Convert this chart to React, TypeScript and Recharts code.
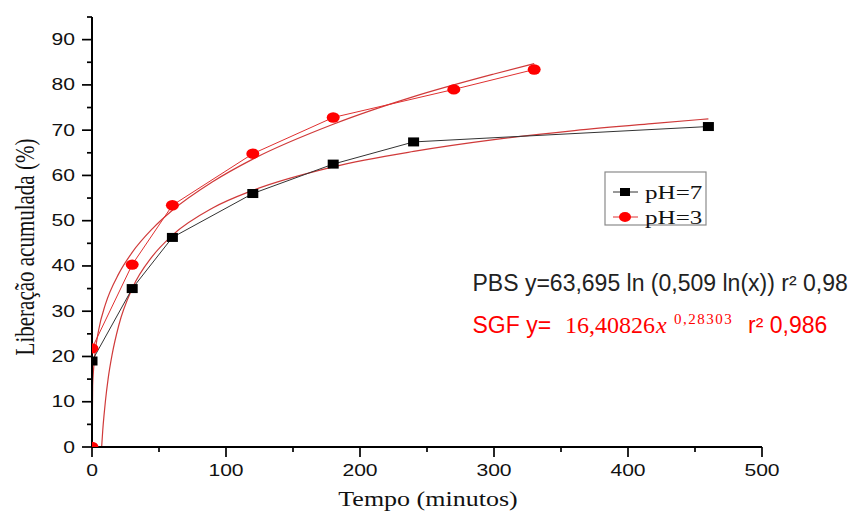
import React from 'react';
import { ComposedChart, Line, XAxis, YAxis } from 'recharts';

// Dados experimentais (tempo em minutos, liberação em %)
const timePH7 = [0, 30, 60, 120, 180, 240, 460];
const valuesPH7 = [19, 35, 46.3, 56, 62.5, 67.4, 70.8];

const timePH3 = [0, 0, 30, 60, 120, 180, 270, 330];
const valuesPH3 = [0, 21.8, 40.3, 53.4, 64.8, 72.8, 79, 83.4];

// Curvas de ajuste
const timeFitPBS = [7.2, 8, 9, 10, 12, 15, 20, 30, 45, 60, 90, 120, 180, 240, 300, 360, 420, 460];
const valuesFitPBS = [0, 3.6, 7.1, 10.1, 15, 20.4, 26.9, 35, 42.1, 46.8, 52.8, 56.7, 61.9, 65.3, 67.9, 69.9, 71.5, 72.5];

const timeFitSGF = [0, 0.5, 1, 2, 5, 10, 20, 30, 45, 60, 90, 120, 180, 240, 300, 330];
const valuesFitSGF = [0, 13.5, 16.4, 20, 25.9, 31.5, 38.3, 43, 48.2, 52.3, 58.6, 63.6, 71.3, 77.4, 82.4, 84.7];

const yTicks = [0, 5, 10, 15, 20, 25, 30, 35, 40, 45, 50, 55, 60, 65, 70, 75, 80, 85, 90, 95];
const xTicks = [0, 50, 100, 150, 200, 250, 300, 350, 400, 450, 500];

const toRows = (xs: number[], ys: number[]) => xs.map((t, i) => ({ t, v: ys[i] }));

const dataPH7 = toRows(timePH7, valuesPH7);
const dataPH3 = toRows(timePH3, valuesPH3);
const dataFitPBS = toRows(timeFitPBS, valuesFitPBS);
const dataFitSGF = toRows(timeFitSGF, valuesFitSGF);

const SANS = '"Liberation Sans", Arial, sans-serif';
const SERIF = '"Liberation Serif", "Times New Roman", serif';
const STRETCH = 1.32;

const YTick = (props: any) => {
  const { x, y, payload } = props;
  const major = payload.value % 10 === 0;
  return (
    <g>
      <line x1={x} x2={x - (major ? 10 : 5)} y1={y} y2={y} stroke="#000" strokeWidth={1.7} />
      {major && (
        <text
          transform={`translate(${x - 17},${y}) scale(${STRETCH},1)`}
          textAnchor="end"
          dominantBaseline="central"
          fontFamily={SANS}
          fontSize={16}
          fill="#111"
        >
          {payload.value}
        </text>
      )}
    </g>
  );
};

const XTick = (props: any) => {
  const { x, y, payload } = props;
  const major = payload.value % 100 === 0;
  return (
    <g>
      <line x1={x} x2={x} y1={y} y2={y + (major ? 10 : 5)} stroke="#000" strokeWidth={1.7} />
      {major && (
        <text
          transform={`translate(${x},${y + 23}) scale(${STRETCH},1)`}
          textAnchor="middle"
          dominantBaseline="central"
          fontFamily={SANS}
          fontSize={16}
          fill="#111"
        >
          {payload.value}
        </text>
      )}
    </g>
  );
};

const SquareDot = (props: any) => {
  const { cx, cy, index } = props;
  return <rect key={`sq-${index}`} x={cx - 5.5} y={cy - 4.5} width={11} height={9} fill="#000" />;
};

const CircleDot = (props: any) => {
  const { cx, cy, index } = props;
  return <ellipse key={`ci-${index}`} cx={cx} cy={cy} rx={6.5} ry={5.2} fill="#ff0000" />;
};

export default function App() {
  return (
    <div style={{ position: 'absolute', left: 0, top: 0, width: 864, height: 512, background: '#fff', overflow: 'hidden' }}>
      <ComposedChart width={864} height={512} margin={{ top: 17, right: 102, bottom: 0, left: 0 }}>
        <XAxis
          dataKey="t"
          type="number"
          domain={[0, 500]}
          ticks={xTicks}
          interval={0}
          allowDataOverflow
          height={65}
          tickSize={0}
          tickMargin={0}
          tickLine={false}
          tick={<XTick />}
          axisLine={{ stroke: '#000', strokeWidth: 2 }}
        />
        <YAxis
          dataKey="v"
          type="number"
          domain={[0, 95]}
          ticks={yTicks}
          interval={0}
          allowDataOverflow
          width={92}
          tickSize={0}
          tickMargin={0}
          tickLine={false}
          tick={<YTick />}
          axisLine={{ stroke: '#000', strokeWidth: 2 }}
        />
        <Line data={dataFitPBS} dataKey="v" type="monotone" stroke="#d03a3a" strokeWidth={1.2} dot={false} activeDot={false} isAnimationActive={false} />
        <Line data={dataFitSGF} dataKey="v" type="monotone" stroke="#d03a3a" strokeWidth={1.2} dot={false} activeDot={false} isAnimationActive={false} />
        <Line data={dataPH7} dataKey="v" type="linear" stroke="#333" strokeWidth={1} dot={<SquareDot />} activeDot={false} isAnimationActive={false} />
        <Line data={dataPH3} dataKey="v" type="linear" stroke="#e03030" strokeWidth={1} dot={<CircleDot />} activeDot={false} isAnimationActive={false} />
      </ComposedChart>

      <svg width={864} height={512} style={{ position: 'absolute', left: 0, top: 0, pointerEvents: 'none' }}>
        {/* títulos dos eixos */}
        <text
          transform={`translate(24,247) scale(1.3,1) rotate(-90)`}
          textAnchor="middle"
          dominantBaseline="central"
          fontFamily={SERIF}
          fontSize={21}
          fill="#111"
        >
          Liberação acumulada (%)
        </text>
        <text
          transform={`translate(428,499) scale(1.3,1)`}
          textAnchor="middle"
          dominantBaseline="central"
          fontFamily={SERIF}
          fontSize={20}
          fill="#111"
        >
          Tempo (minutos)
        </text>

        {/* legenda */}
        <rect x={605} y={172} width={101} height={53} fill="#fff" stroke="#8a8a8a" strokeWidth={1.2} />
        <line x1={613} x2={638} y1={192} y2={192} stroke="#333" strokeWidth={1} />
        <rect x={620} y={188} width={10} height={8} fill="#000" />
        <text transform={`translate(645,198.5) scale(${STRETCH},1)`} fontFamily={SERIF} fontSize={19} fill="#111">
          pH=7
        </text>
        <line x1={613} x2={638} y1={217} y2={217} stroke="#e03030" strokeWidth={1} />
        <ellipse cx={625} cy={217} rx={6} ry={5} fill="#ff0000" />
        <text transform={`translate(645,223.5) scale(${STRETCH},1)`} fontFamily={SERIF} fontSize={19} fill="#111">
          pH=3
        </text>

        {/* equações de ajuste */}
        <text x={472.5} y={291} fontFamily={SANS} fontSize={23} fill="#222">
          PBS y=63,695 ln (0,509 ln(x)) r² 0,98
        </text>
        <text x={472.5} y={333} fontFamily={SANS} fontSize={23} fill="#ff0000">
          SGF y=
        </text>
        <text x={565} y={333} fontFamily={SERIF} fontSize={24} fill="#ff0000">
          16,40826
        </text>
        <text x={656} y={333} fontFamily={SERIF} fontStyle="italic" fontSize={24} fill="#ff0000">
          x
        </text>
        <text x={674} y={323.5} fontFamily={SERIF} fontSize={15} letterSpacing={1.5} fill="#ff0000">
          0,28303
        </text>
        <text x={748} y={333} fontFamily={SANS} fontSize={23} fill="#ff0000">
          r² 0,986
        </text>
      </svg>
    </div>
  );
}
